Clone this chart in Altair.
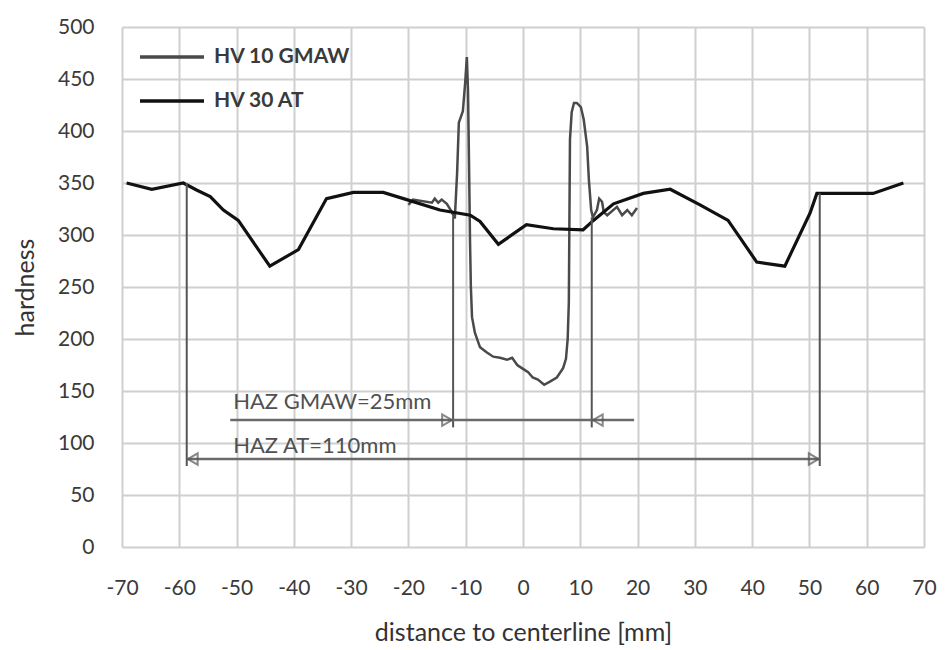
import altair as alt
import pandas as pd

# HV 30 AT (black)
at_x = [-69.2, -64.8, -59.3, -56.9, -54.6, -52.3, -49.7, -44.2, -39.2, -34.3, -29.6, -24.4, -20.3,
        -14.5, -9.2, -7.5, -4.3, 0.6, 5.3, 10.5, 12.3, 13.4, 15.8, 21.0, 25.7, 30.9, 35.8,
        40.8, 45.7, 50.1, 51.3, 61.1, 66.4]
at_y = [350, 344, 350, 343, 337, 324, 314, 270, 286, 335, 341, 341, 334,
        324, 319, 313, 291, 310, 306, 305, 314, 319, 330, 340, 344, 329, 314,
        274, 270, 321, 340, 340, 350]

# HV 10 GMAW (grey)
gmaw_x = [-20.0, -19.2, -15.9, -15.4, -14.8, -14.2, -13.3, -12.4, -11.9, -11.5, -11.2, -10.5, -10.1,
          -9.8, -9.6, -9.4, -9.25, -9.1, -8.9, -8.4, -7.5, -6.3, -5.2, -4.0, -2.8, -1.9, -1.0, -0.2,
          0.9, 1.7, 2.6, 3.7, 4.7, 5.9, 7.0, 7.5, 7.8, 8.0, 8.2, 8.5, 8.9, 9.4, 10.1, 10.6, 11.2,
          11.5, 11.9, 12.2, 12.9, 13.3, 13.8, 14.1, 14.7, 16.4, 17.3, 18.2, 19.0, 19.9]
gmaw_y = [329, 334, 331, 335, 331, 334, 330, 322, 316, 360, 408, 419, 446,
          471, 439, 360, 295, 250, 221, 206, 192, 187, 183, 182, 180, 182, 175, 172,
          168, 163, 161, 156, 159, 163, 172, 181, 200, 235, 392, 418, 427, 427, 423, 411, 385,
          353, 324, 317, 324, 335, 332, 322, 319, 327, 319, 324, 319, 326]

series_names = ["HV 10 GMAW", "HV 30 AT"]

# annotation data
vline_x = [-58.7, -12.2, 12.0, 51.8]
vline_top = [350, 318, 317, 340]
vline_bot = [78, 115, 115, 78]

arrow_labels = ["HAZ GMAW=25mm", "HAZ AT=110mm"]
arrow_start = [-51.1, -58.7]
arrow_end = [19.4, 51.8]
arrow_y = [122, 84.6]
label_x = [-50.6, -50.6]
label_y = [132.5, 90]

head_right_x = [-12.2, 51.8]
head_right_y = [122, 84.6]
head_left_x = [12.0, -58.7]
head_left_y = [122, 84.6]

FONT = "Lato, sans-serif"

df_at = pd.DataFrame({"x": at_x, "y": at_y, "series": series_names[1]})
df_gm = pd.DataFrame({"x": gmaw_x, "y": gmaw_y, "series": series_names[0]})
df_v = pd.DataFrame({"x": vline_x, "y": vline_top, "y2": vline_bot})
df_arr = pd.DataFrame({"x": arrow_start, "x2": arrow_end, "y": arrow_y})
df_lab = pd.DataFrame({"x": label_x, "y": label_y, "t": arrow_labels})
df_hr = pd.DataFrame({"x": head_right_x, "y": head_right_y})
df_hl = pd.DataFrame({"x": head_left_x, "y": head_left_y})

xscale = alt.Scale(domain=[-70, 70], nice=False, zero=False)
yscale = alt.Scale(domain=[0, 500], nice=False)

xaxis = alt.Axis(values=list(range(-70, 71, 10)), title="distance to centerline [mm]",
                 labelExpr="'' + datum.value",
                 tickSize=0, labelPadding=30, titlePadding=22, domain=False,
                 labelFontSize=21, titleFontSize=25, labelFont=FONT, titleFont=FONT,
                 labelColor="#3a3a3a", titleColor="#333", titleFontWeight="normal",
                 gridColor="#cfcfcf", gridWidth=2, labelFlush=False)
yaxis = alt.Axis(values=list(range(0, 501, 50)), title="hardness",
                 tickSize=0, labelPadding=28, domain=False,
                 labelFontSize=21, titleFontSize=25, labelFont=FONT, titleFont=FONT,
                 labelColor="#3a3a3a", titleColor="#333", titleFontWeight="normal",
                 gridColor="#cfcfcf", gridWidth=2, titleX=-97, titleY=260,
                 titleAlign="center", titleBaseline="middle", titleAngle=-90)

color = alt.Color("series:N",
                  scale=alt.Scale(domain=series_names, range=["#4a4a4a", "#111111"]),
                  legend=alt.Legend(title=None, orient="none", legendX=16, legendY=-4,
                                    symbolType="stroke", symbolSize=4096, symbolStrokeWidth=3.5,
                                    labelFont=FONT, labelFontSize=21, labelColor="#3a3a3a",
                                    labelFontWeight="bold", rowPadding=0, labelOffset=8))

gm_line = alt.Chart(df_gm).mark_line(strokeWidth=2.5, interpolate="linear").encode(
    x=alt.X("x:Q", scale=xscale, axis=xaxis),
    y=alt.Y("y:Q", scale=yscale, axis=yaxis),
    color=color,
)
at_line = alt.Chart(df_at).mark_line(strokeWidth=3.2).encode(
    x=alt.X("x:Q", scale=xscale),
    y=alt.Y("y:Q", scale=yscale),
    color=color,
)

vrules = alt.Chart(df_v).mark_rule(color="#555", strokeWidth=2).encode(
    x="x:Q", y="y:Q", y2="y2:Q")
arrows = alt.Chart(df_arr).mark_rule(color="#6a6a6a", strokeWidth=2.5).encode(
    x="x:Q", x2="x2:Q", y="y:Q")
heads_r = alt.Chart(df_hr).mark_point(shape="triangle-right", filled=False, size=130,
                                      color="#555", strokeWidth=2, xOffset=-6).encode(
    x="x:Q", y="y:Q")
heads_l = alt.Chart(df_hl).mark_point(shape="triangle-left", filled=False, size=130,
                                      color="#555", strokeWidth=2, xOffset=6).encode(
    x="x:Q", y="y:Q")
labels = alt.Chart(df_lab).mark_text(align="left", baseline="alphabetic", font=FONT,
                                     fontSize=22, color="#505050").encode(
    x="x:Q", y="y:Q", text="t:N")

chart = alt.layer(gm_line, at_line, vrules, arrows, heads_r, heads_l, labels).properties(
    width=802, height=520,
    autosize=alt.AutoSizeParams(type="none"),
    padding={"left": 114, "top": 19, "right": 14, "bottom": 103},
).configure_view(stroke="#bdbdbd", strokeWidth=1.5).configure(background="white")

chart.save("out.html", embed_options={"renderer": "svg", "actions": False})
